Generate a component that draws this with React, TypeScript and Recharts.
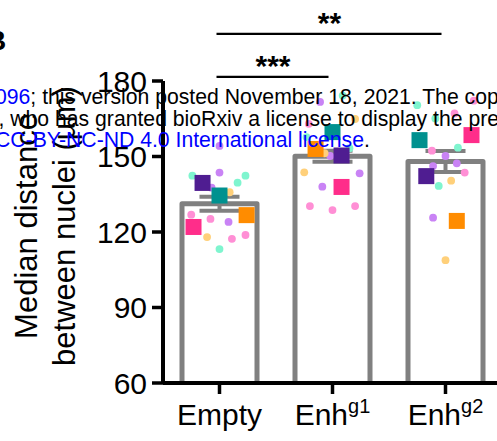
import React from 'react';
import { ComposedChart, Bar, ErrorBar, XAxis, YAxis, Scatter, ReferenceLine } from 'recharts';

// ---------- data ----------
const categories = ['Empty', 'Enh1', 'Enh2'];
const tickBase = ['Empty', 'Enh', 'Enh'];
const tickSup = ['', 'g1', 'g2'];
const yTicks = [60, 90, 120, 150, 180];
const barMeans = [131.2, 150.1, 148.0];
const barSem = [2.8, 2.2, 4.15];

// individual nuclei per replicate: per category, [jitter (fraction of band), value]
const violetCells = [
  [[0.0, 154.2], [0.0, 143.6], [-0.07, 137.6], [0.08, 124.0]],
  [[-0.11, 171.7], [-0.02, 150.2], [0.24, 143.3], [-0.09, 138.0]],
  [[0.0, 150.2], [-0.11, 146.2], [0.1, 147.3], [-0.11, 125.7]],
];
const aquaCells = [
  [[-0.24, 142.4], [0.23, 142.4], [0.16, 139.6], [0.0, 113.2]],
  [[0.09, 174.2], [-0.23, 157.7], [0.15, 153.3]],
  [[-0.25, 170.4], [-0.09, 165.1], [0.11, 153.5], [-0.06, 138.3]],
];
const pinkCells = [
  [[-0.25, 126.9], [-0.08, 125.2], [0.23, 118.8], [0.11, 117.3]],
  [[-0.21, 163.0], [-0.2, 130.3], [0.0, 128.7], [0.2, 130.3]],
  [[0.25, 172.2], [0.08, 167.1], [-0.12, 152.3], [0.17, 143.6]],
];
const orangeCells = [
  [[0.09, 135.8], [-0.11, 118.0]],
  [[0.2, 164.9], [-0.07, 151.3], [-0.25, 143.7]],
  [[0.05, 140.4], [0.0, 108.8]],
];

// replicate means: per category [jitter, value]
const purpleMeans = [[-0.15, 139.5], [0.08, 150.4], [-0.17, 142.2]];
const tealMeans = [[0.0, 134.5], [0.0, 159.7], [-0.23, 156.5]];
const deepPinkMeans = [[-0.23, 122.0], [0.08, 137.9], [0.23, 158.5]];
const darkOrangeMeans = [[0.24, 126.7], [-0.15, 153.0], [0.1, 124.4]];

// significance brackets
const sigFrom = ['Empty', 'Empty'];
const sigTo = ['Enh1', 'Enh2'];
const sigLevel = [181.6, 198.7];
const sigText = ['***', '**'];

// ---------- derived tables ----------
const barData = categories.map((c, i) => ({ name: c, mean: barMeans[i], err: barSem[i] }));
const cellPoints = (cells: number[][][]) =>
  cells.flatMap((arr, ci) => arr.map(([j, v]) => ({ x: ci + 0.5 + j, y: v })));
const meanPoints = (means: number[][]) => means.map(([j, v], ci) => ({ x: ci + 0.5 + j, y: v }));

const FONT = '"Liberation Sans", Arial, Helvetica, sans-serif';
const GRAY = '#808080';

const OpenBar = (props: any) => {
  const { x, y, width, height } = props;
  return (
    <path
      d={`M${x},${y + height} L${x},${y} L${x + width},${y} L${x + width},${y + height}`}
      fill="#fff"
      stroke={GRAY}
      strokeWidth={5}
      strokeLinejoin="round"
    />
  );
};

const circleShape = (color: string) => (p: any) => <circle cx={p.cx} cy={p.cy} r={3.9} fill={color} />;
const squareShape = (color: string) => (p: any) => (
  <rect x={p.cx - 8} y={p.cy - 8} width={16} height={16} fill={color} />
);

const XTick = (props: any) => {
  const { x, y, index } = props;
  const sup = tickSup[index];
  return (
    <text x={x} y={y + 29} textAnchor="middle" fontSize={30} fontFamily={FONT} fill="#000">
      {tickBase[index]}
      {sup ? (
        <tspan dy={-12} fontSize={20}>
          {sup}
        </tspan>
      ) : null}
    </text>
  );
};

const YLabel = (props: any) => {
  const vb = props.viewBox || { x: 0, y: 81, width: 163, height: 302 };
  const cy = vb.y + vb.height / 2 - 6;
  return (
    <g fontFamily={FONT} fontSize={31} fill="#000">
      <text x={37} y={cy} textAnchor="middle" transform={`rotate(-90 37 ${cy})`}>
        Median distance
      </text>
      <text x={75} y={cy} textAnchor="middle" transform={`rotate(-90 75 ${cy})`}>
        between nuclei (µm)
      </text>
    </g>
  );
};

const sigShape = (p: any) => (
  <line x1={p.x1 - 3} y1={p.y1} x2={p.x2 - 4} y2={p.y2} stroke="#000" strokeWidth={2.2} />
);

export default function App() {
  return (
    <div style={{ position: 'absolute', left: 0, top: 0, width: 497, height: 441, overflow: 'hidden', background: '#fff' }}>
      <ComposedChart
        width={510}
        height={441}
        data={barData}
        margin={{ top: 81, right: 8, bottom: 28, left: 0 }}
      >
        <XAxis
          xAxisId="cat"
          dataKey="name"
          type="category"
          height={30}
          axisLine={{ stroke: '#000', strokeWidth: 4 }}
          tickLine={{ stroke: '#000', strokeWidth: 3.5 }}
          tickSize={11}
          tick={<XTick />}
          interval={0}
        />
        <XAxis xAxisId="jit" dataKey="x" type="number" domain={[0, 3]} hide allowDataOverflow />
        <YAxis
          type="number"
          domain={[60, 180]}
          ticks={yTicks}
          allowDataOverflow
          width={163}
          axisLine={{ stroke: '#000', strokeWidth: 4 }}
          tickLine={{ stroke: '#000', strokeWidth: 3.5 }}
          tickSize={11}
          tickMargin={5}
          tick={{ fill: '#000', fontSize: 30, fontFamily: FONT }}
          label={{ content: (p: any) => <YLabel {...p} /> }}
        />
        <Bar xAxisId="cat" dataKey="mean" barSize={75} shape={<OpenBar />} isAnimationActive={false}>
          <ErrorBar dataKey="err" width={20} strokeWidth={4} stroke={GRAY} direction="y" />
        </Bar>
        <Scatter xAxisId="jit" data={cellPoints(violetCells)} dataKey="y" shape={circleShape('#c983f5')} isAnimationActive={false} />
        <Scatter xAxisId="jit" data={cellPoints(aquaCells)} dataKey="y" shape={circleShape('#7ff5cf')} isAnimationActive={false} />
        <Scatter xAxisId="jit" data={cellPoints(pinkCells)} dataKey="y" shape={circleShape('#ff8fd5')} isAnimationActive={false} />
        <Scatter xAxisId="jit" data={cellPoints(orangeCells)} dataKey="y" shape={circleShape('#ffd07a')} isAnimationActive={false} />
        <Scatter xAxisId="jit" data={meanPoints(purpleMeans)} dataKey="y" shape={squareShape('#4f1d91')} isAnimationActive={false} />
        <Scatter xAxisId="jit" data={meanPoints(tealMeans)} dataKey="y" shape={squareShape('#00918f')} isAnimationActive={false} />
        <Scatter xAxisId="jit" data={meanPoints(deepPinkMeans)} dataKey="y" shape={squareShape('#ff2d8a')} isAnimationActive={false} />
        <Scatter xAxisId="jit" data={meanPoints(darkOrangeMeans)} dataKey="y" shape={squareShape('#ff8c00')} isAnimationActive={false} />
        {sigText.map((s, i) => (
          <ReferenceLine
            key={s}
            xAxisId="cat"
            ifOverflow="visible"
            segment={[
              { x: sigFrom[i], y: sigLevel[i] },
              { x: sigTo[i], y: sigLevel[i] },
            ]}
            shape={sigShape}
            label={{
              content: (p: any) => {
                const vb = p.viewBox || { x: 0, y: 0, width: 0 };
                return (
                  <text
                    x={vb.x + vb.width / 2 - 3}
                    y={vb.y - 1}
                    textAnchor="middle"
                    fontSize={30}
                    fontWeight="bold"
                    fontFamily={FONT}
                    fill="#000"
                  >
                    {s}
                  </text>
                );
              },
            }}
          />
        ))}
      </ComposedChart>
      <svg width={497} height={441} style={{ position: 'absolute', left: 0, top: 0, pointerEvents: 'none' }}>
        <text x={-14} y={50} fontSize={28} fontWeight="bold" fontFamily={FONT} fill="#000">
          B
        </text>
        <g fontFamily={FONT} fontSize={21.2} fill="#000">
          <text x={-5} y={104}>
            <tspan fill="#0000ff">096</tspan>; this version posted November 18, 2021. The copyright holder for this preprint
          </text>
          <text x={-1.5} y={125.5}>
            , who has granted bioRxiv a license to display the preprint in perpetuity. It is made
          </text>
          <text x={-5} y={147}>
            <tspan fill="#0000ff">CC-BY-NC-ND 4.0 International license</tspan>.
          </text>
        </g>
      </svg>
    </div>
  );
}
